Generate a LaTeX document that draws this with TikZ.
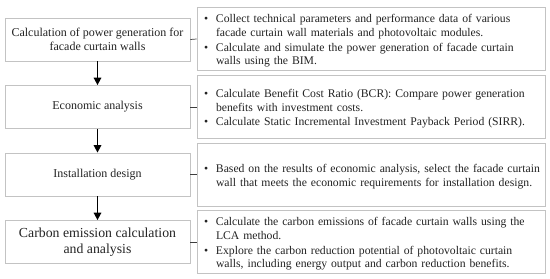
\documentclass[tikz,border=0pt]{standalone}
\usepackage{fontspec}
\setmainfont{Liberation Serif}
\usepackage{tikz}
\usetikzlibrary{arrows.meta,positioning}
\definecolor{boxgray}{RGB}{195,195,195}
\definecolor{inkgray}{RGB}{35,35,35}
\definecolor{linkgray}{RGB}{60,60,60}
\setlength{\parskip}{0pt}

% bullet with a hanging block of text
\newcommand{\bul}[1]{\par\noindent
  \makebox[17pt][l]{\hspace{5pt}\textbullet}%
  \begin{tabular}[t]{@{}l@{}}#1\end{tabular}\par}

\begin{document}
\begin{tikzpicture}[
    x=1pt,
    y=1pt,
    >={Triangle[length=7.5pt,width=7.5pt]},
    stage/.style={
        draw=boxgray,
        line width=0.8pt,
        minimum width=185pt,
        minimum height=43pt,
        align=center,
        text=inkgray,
        font=\fontsize{12}{14}\selectfont
    },
    note/.style={
        draw=boxgray,
        line width=0.8pt,
        minimum width=348pt,
        minimum height=63pt,
        text width=344pt,
        inner sep=2pt,
        align=left,
        text=inkgray,
        font=\fontsize{11.7}{13.6}\selectfont
    },
    flow/.style={->, line width=1.6pt},
    link/.style={linkgray, line width=0.7pt}
]
\useasboundingbox (0,0) rectangle (550,279);

% Main boxes
\node[stage] (power) at (97.5,239.5)
{Calculation of power generation for\\facade curtain walls};

\node[stage] (econ) at (97.5,172)
{Economic analysis};

\node[stage] (install) at (97.5,104.5)
{Installation design};

\node[stage, font=\fontsize{13.8}{16}\selectfont] (carbon) at (97.5,37)
{Carbon emission calculation\\and analysis};

% Detail boxes
\node[note] (powernote) at (371,240)
{\bul{Collect technical parameters and performance data of various\\
facade curtain wall materials and photovoltaic modules.}
\bul{Calculate and simulate the power generation of facade curtain\\
walls using the BIM.}};

\node[note] (econnote) at (371,172)
{\bul{Calculate Benefit Cost Ratio (BCR): Compare power generation\\
benefits with investment costs.}
\bul{Calculate Static Incremental Investment Payback Period (SIRR).}};

\node[note] (installnote) at (371,104.5)
{\bul{Based on the results of economic analysis, select the facade curtain\\
wall that meets the economic requirements for installation design.}};

\node[note] (carbonnote) at (371,37)
{\bul{Calculate the carbon emissions of facade curtain walls using the\\
LCA method.}
\bul{Explore the carbon reduction potential of photovoltaic curtain\\
walls, including energy output and carbon reduction benefits.}};

% Arrows
\draw[flow] (power) -- (econ);
\draw[flow] (econ) -- (install);
\draw[flow] (install) -- (carbon);

% Connectors
\draw[link] (power.east) -- (powernote.west);
\draw[link] (econ.east) -- (econnote.west);
\draw[link] (install.east) -- (installnote.west);
\draw[link] (carbon.east) -- (carbonnote.west);
\end{tikzpicture}
\end{document}
